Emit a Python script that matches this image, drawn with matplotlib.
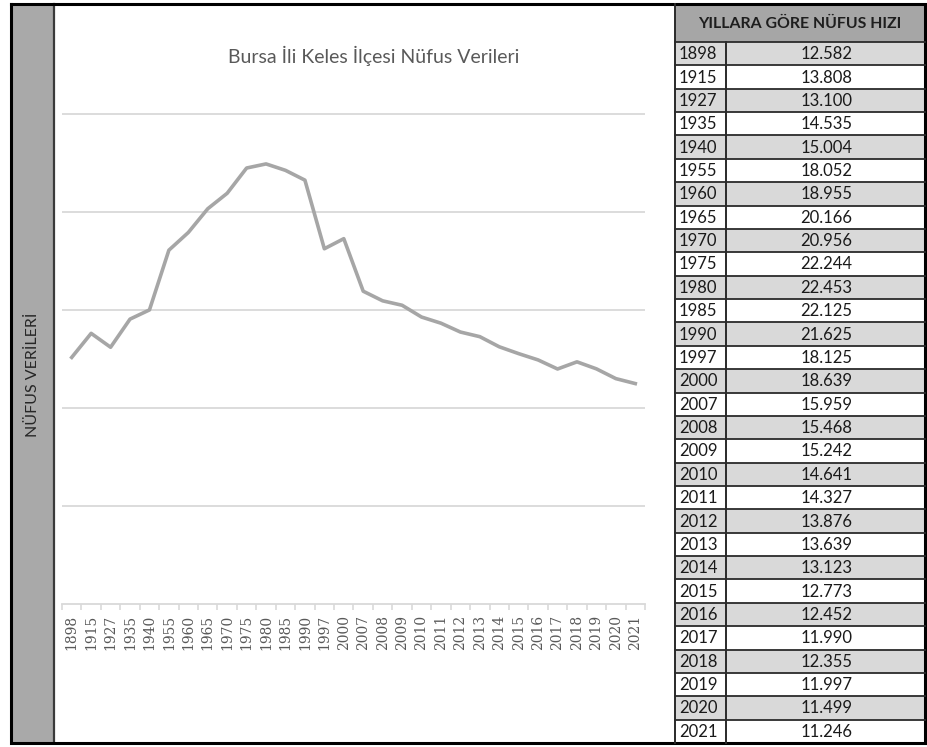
from matplotlib import pyplot as plt
from matplotlib.patches import Rectangle
import numpy as np

plt.rcParams['font.family'] = ['Lato', 'DejaVu Sans']

years = ['1898', '1915', '1927', '1935', '1940', '1955', '1960', '1965', '1970', '1975',
         '1980', '1985', '1990', '1997', '2000', '2007', '2008', '2009', '2010', '2011',
         '2012', '2013', '2014', '2015', '2016', '2017', '2018', '2019', '2020', '2021']
population = [12582, 13808, 13100, 14535, 15004, 18052, 18955, 20166, 20956, 22244,
              22453, 22125, 21625, 18125, 18639, 15959, 15468, 15242, 14641, 14327,
              13876, 13639, 13123, 12773, 12452, 11990, 12355, 11997, 11499, 11246]
table_labels = ['12.582', '13.808', '13.100', '14.535', '15.004', '18.052', '18.955', '20.166',
                '20.956', '22.244', '22.453', '22.125', '21.625', '18.125', '18.639', '15.959',
                '15.468', '15.242', '14.641', '14.327', '13.876', '13.639', '13.123', '12.773',
                '12.452', '11.990', '12.355', '11.997', '11.499', '11.246']
grid_levels = [5000, 10000, 15000, 20000, 25000]

title = 'Bursa İli Keles İlçesi Nüfus Verileri'
side_label = 'NÜFUS VERİLERİ'
table_title = 'YILLARA GÖRE NÜFUS HIZI'

W, H = 928, 747
fig = plt.figure(figsize=(W / 100, H / 100), dpi=100)

# ----------------------------------------------------------------------------------------------------
# background frame, side band and table drawn in pixel coordinates
bg = fig.add_axes([0, 0, 1, 1])
bg.set_xlim(0, W)
bg.set_ylim(H, 0)
bg.axis('off')

bg.add_patch(Rectangle((11, 4), 43, 739, facecolor='#a9a9a9', edgecolor='none'))
bg.plot([54, 54], [4, 743], color='#3a3a3a', lw=1.6)
bg.plot([11, 11, 925, 925, 11], [4, 743, 743, 4, 4], color='black', lw=2.2, solid_joinstyle='miter')
bg.text(33, 375, side_label, rotation=90, ha='center', va='center', fontsize=11.5, color='#262626')

tx0, tx1, tdiv = 675, 925, 726
head_top, head_bot = 4, 42
row_h = (743 - head_bot) / len(years)

bg.add_patch(Rectangle((tx0, head_top), tx1 - tx0, head_bot - head_top, facecolor='#a6a6a6', edgecolor='none'))
bg.text((tx0 + tx1) / 2, (head_top + head_bot) / 2 + 1, table_title, ha='center', va='center',
        fontsize=11.4, fontweight='bold', color='#1e1e1e')

for i, (yr, lab) in enumerate(zip(years, table_labels)):
    top = head_bot + i * row_h
    if i % 2 == 0:
        bg.add_patch(Rectangle((tx0, top), tx1 - tx0, row_h, facecolor='#d9d9d9', edgecolor='none'))
    bg.plot([tx0, tx1], [top, top], color='#2a2a2a', lw=1.3)
    bg.text(tx0 + 4, top + row_h / 2 + 0.5, yr, ha='left', va='center', fontsize=12, color='#1a1a1a')
    bg.text((tdiv + tx1) / 2 + 1, top + row_h / 2 + 0.5, lab, ha='center', va='center', fontsize=12, color='#1a1a1a')

bg.plot([tx0, tx0], [head_top, 743], color='#2a2a2a', lw=1.4)
bg.plot([tdiv, tdiv], [head_bot, 743], color='#2a2a2a', lw=1.4)

fig.text(374 / W, 1 - 56 / H, title, ha='center', va='center', fontsize=14, color='#595959')

# ----------------------------------------------------------------------------------------------------
# line chart
y_top = 25250
ax_bottom, ax_h = 604, 490 * y_top / 25000
ax = fig.add_axes([62 / W, (H - ax_bottom) / H, 583 / W, ax_h / H])
ax.patch.set_alpha(0)

x = np.arange(len(years))
for lvl in grid_levels:
    ax.axhline(lvl, color='#d9d9d9', lw=1.3, zorder=1)
ax.plot(x, population, color='#a6a6a6', lw=2.6, solid_joinstyle='round', zorder=3)

ax.set_xlim(-0.5, len(years) - 0.5)
ax.set_ylim(0, y_top)
for s in ['top', 'right', 'left']:
    ax.spines[s].set_visible(False)
ax.spines['bottom'].set_color('#d9d9d9')
ax.spines['bottom'].set_linewidth(1.3)
ax.set_yticks([])
ax.set_xticks(x)
ax.set_xticklabels(years, rotation=90, family='DejaVu Serif', fontsize=10, color='#595959')
ax.set_xticks(np.arange(len(years) + 1) - 0.5, minor=True)
ax.tick_params(axis='x', which='major', length=0, pad=8)
ax.tick_params(axis='x', which='minor', length=4, color='#d9d9d9', width=1.2)

fig.savefig('out.png', dpi=100)
